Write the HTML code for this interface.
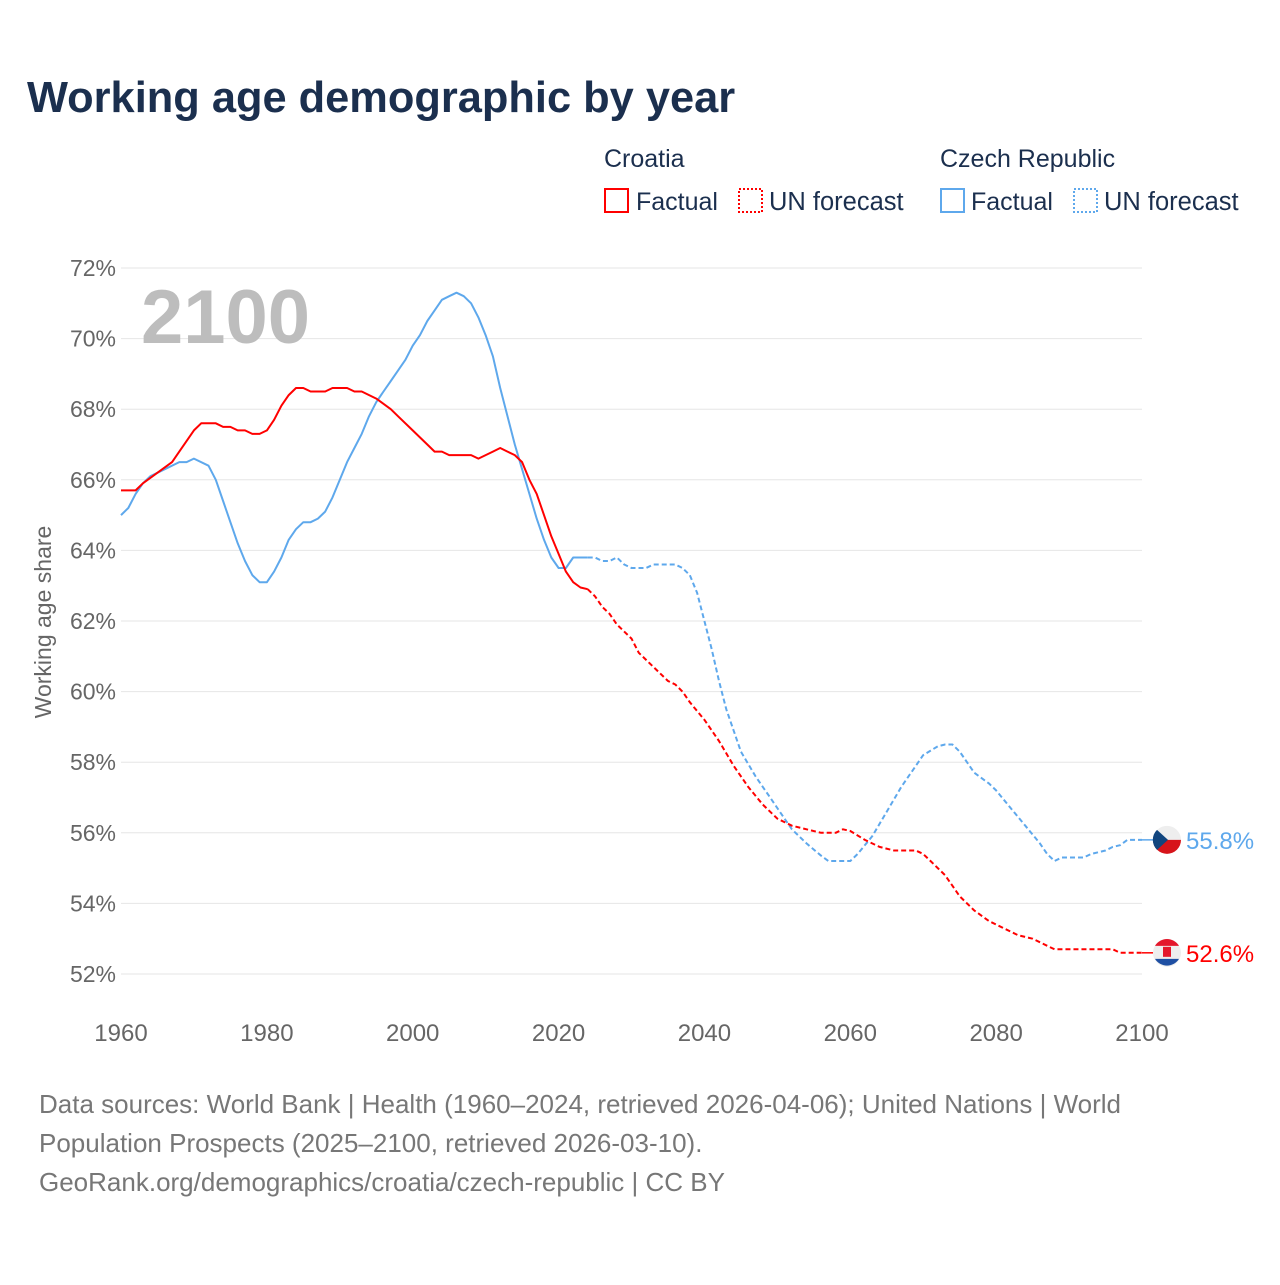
<!DOCTYPE html>
<html><head><meta charset="utf-8"><style>
body{margin:0;background:#fff;font-family:"Liberation Sans",sans-serif;}
svg text{font-family:"Liberation Sans",sans-serif;}
</style></head><body>
<svg id="c" width="1280" height="1280" xmlns="http://www.w3.org/2000/svg">
<text x="27" y="112" font-size="43.4" font-weight="bold" fill="#1b2f4e">Working age demographic by year</text>
<g>
<text x="604" y="167" font-size="25" fill="#1b2f4e">Croatia</text>
<text x="940" y="167" font-size="25" fill="#1b2f4e">Czech Republic</text>
<rect x="605" y="189" width="23" height="23" fill="none" stroke="#f00" stroke-width="2"/>
<text x="636" y="210" font-size="25" fill="#1b2f4e">Factual</text>
<rect x="739" y="189" width="23" height="23" fill="none" stroke="#f00" stroke-width="2" stroke-dasharray="2,2"/>
<text x="769" y="210" font-size="25.5" fill="#1b2f4e">UN forecast</text>
<rect x="941" y="189" width="23" height="23" fill="none" stroke="#5ea8ec" stroke-width="2"/>
<text x="971" y="210" font-size="25" fill="#1b2f4e">Factual</text>
<rect x="1074" y="189" width="23" height="23" fill="none" stroke="#5ea8ec" stroke-width="2" stroke-dasharray="2,2"/>
<text x="1104" y="210" font-size="25.5" fill="#1b2f4e">UN forecast</text>
</g>
<g id="grid"></g>
<text x="141" y="343" font-size="76" font-weight="bold" fill="#bdbdbd">2100</text>
<text transform="translate(51,622) rotate(-90)" text-anchor="middle" font-size="23" fill="#666">Working age share</text>
<g id="series"></g>
<g id="ends"></g>
<text x="39" y="1113" font-size="26" fill="#777">Data sources: World Bank | Health (1960–2024, retrieved 2026-04-06); United Nations | World</text>
<text x="39" y="1152" font-size="26" fill="#777">Population Prospects (2025–2100, retrieved 2026-03-10).</text>
<text x="39" y="1191" font-size="26" fill="#777">GeoRank.org/demographics/croatia/czech-republic | CC BY</text>
</svg>
<script>
const yTicks=[52,54,56,58,60,62,64,66,68,70,72];
const xTicks=[1960,1980,2000,2020,2040,2060,2080,2100];
const hrYears=[1960,1962,1963,1965,1967,1968,1970,1971,1973,1974,1975,1976,1977,1978,1979,1980,1981,1982,1983,1984,1985,1986,1988,1989,1991,1992,1993,1995,1997,1998,2000,2002,2003,2004,2005,2008,2009,2011,2012,2013,2014,2015,2016,2017,2018,2019,2020,2021,2022,2023,2024];
const hrVals=[65.7,65.7,65.9,66.2,66.5,66.8,67.4,67.6,67.6,67.5,67.5,67.4,67.4,67.3,67.3,67.4,67.7,68.1,68.4,68.6,68.6,68.5,68.5,68.6,68.6,68.5,68.5,68.3,68.0,67.8,67.4,67.0,66.8,66.8,66.7,66.7,66.6,66.8,66.9,66.8,66.7,66.5,66.0,65.6,65.0,64.4,63.9,63.4,63.1,62.95,62.9];
const hrFYears=[2024,2025,2026,2027,2028,2030,2031,2033,2035,2036,2037,2038,2040,2042,2044,2046,2048,2050,2052,2054,2056,2058,2059,2060,2062,2064,2066,2069,2070,2071,2072,2073,2075,2077,2079,2081,2083,2085,2087,2088,2091,2096,2097,2100];
const hrFVals=[62.9,62.7,62.4,62.2,61.9,61.5,61.1,60.7,60.3,60.2,60.0,59.7,59.2,58.6,57.9,57.3,56.8,56.4,56.2,56.1,56.0,56.0,56.1,56.05,55.8,55.6,55.5,55.5,55.4,55.2,55.0,54.8,54.2,53.8,53.5,53.3,53.1,53.0,52.8,52.7,52.7,52.7,52.6,52.6];
const czYears=[1960,1961,1962,1963,1964,1966,1968,1969,1970,1972,1973,1974,1975,1976,1977,1978,1979,1980,1981,1982,1983,1984,1985,1986,1987,1988,1989,1990,1991,1992,1993,1994,1995,1996,1997,1998,1999,2000,2001,2002,2003,2004,2005,2006,2007,2008,2009,2010,2011,2012,2013,2014,2015,2016,2017,2018,2019,2020,2021,2022,2024];
const czVals=[65.0,65.2,65.6,65.9,66.1,66.3,66.5,66.5,66.6,66.4,66.0,65.4,64.8,64.2,63.7,63.3,63.1,63.1,63.4,63.8,64.3,64.6,64.8,64.8,64.9,65.1,65.5,66.0,66.5,66.9,67.3,67.8,68.2,68.5,68.8,69.1,69.4,69.8,70.1,70.5,70.8,71.1,71.2,71.3,71.2,71.0,70.6,70.1,69.5,68.6,67.8,67.0,66.3,65.6,64.9,64.3,63.8,63.5,63.5,63.8,63.8];
const czFYears=[2024,2025,2026,2027,2028,2029,2030,2032,2033,2036,2037,2038,2039,2040,2041,2042,2043,2044,2045,2047,2049,2051,2052,2054,2056,2057,2060,2061,2063,2065,2067,2069,2070,2072,2073,2074,2075,2076,2077,2079,2080,2082,2084,2086,2087,2088,2089,2092,2093,2095,2096,2097,2098,2100];
const czFVals=[63.8,63.8,63.7,63.7,63.8,63.6,63.5,63.5,63.6,63.6,63.5,63.3,62.8,62.0,61.2,60.3,59.5,58.9,58.3,57.6,57.0,56.4,56.1,55.7,55.35,55.2,55.2,55.4,55.9,56.6,57.3,57.9,58.2,58.45,58.5,58.5,58.3,58.0,57.7,57.4,57.2,56.7,56.2,55.7,55.4,55.2,55.3,55.3,55.4,55.5,55.6,55.65,55.8,55.8];
const NS="http://www.w3.org/2000/svg";
const X=y=>121+(y-1960)*(1142-121)/140;
const Y=v=>974-(v-52)*(974-268)/20;
function mk(t,a,p){const e=document.createElementNS(NS,t);for(const k in a)e.setAttribute(k,a[k]);p.appendChild(e);return e;}
const grid=document.getElementById('grid');
yTicks.forEach(v=>{
 const l=mk('line',{x1:121,x2:1142,y1:Y(v),y2:Y(v),stroke:'#e6e6e6','stroke-width':1},grid);
 
 
 const t=mk('text',{x:116,y:Y(v)+8,'text-anchor':'end','font-size':23,fill:'#666'},grid);
 t.textContent=v+'%';
 
 
});
xTicks.forEach(v=>{
 const t=mk('text',{x:X(v),y:1041,'text-anchor':'middle','font-size':24,fill:'#666'},grid);
 t.textContent=v;
 
 
});
const S=document.getElementById('series');
function line(ys,vs,col,dash,name){
 const d=ys.map((y,i)=>(i?'L':'M')+X(y).toFixed(1)+','+Y(vs[i]).toFixed(1)).join('');
 const p=mk('path',{d:d,fill:'none',stroke:col,'stroke-width':2,'stroke-linejoin':'round'},S);
 if(dash)p.setAttribute('stroke-dasharray','5,3');
 
 
}
line(czYears,czVals,'#5ea8ec',false,'czech-factual-line');
line(czFYears,czFVals,'#5ea8ec',true,'czech-forecast-line');
line(hrYears,hrVals,'#ff0000',false,'croatia-factual-line');
line(hrFYears,hrFVals,'#ff0000',true,'croatia-forecast-line');
const E=document.getElementById('ends');
function end(v,col,label,name,flag){
 const y=Y(v);
 mk('line',{x1:1142,x2:1153,y1:y,y2:y,stroke:col,'stroke-width':1.5},E);
 const g=mk('g',{},E);
 
 
 const cx=1167;
 if(flag==='cz'){
  mk('circle',{cx:cx,cy:y,r:14,fill:'#eee'},g);
  mk('path',{d:`M${cx-14},${y}A14,14 0 0 0 ${cx+14},${y}Z`,fill:'#d7141a'},g);
  mk('path',{d:`M${cx-10},${y-10}L${cx+1},${y}L${cx-10},${y+10}A14,14 0 0 1 ${cx-10},${y-10}Z`,fill:'#11457e'},g);
 }else{
  mk('circle',{cx:cx,cy:y,r:14,fill:'#eee'},g);
  mk('path',{d:`M${cx-12},${y-7}A14,14 0 0 1 ${cx+12},${y-7}Z`,fill:'#e4172b'},g);
  mk('path',{d:`M${cx-12},${y+6}A14,14 0 0 0 ${cx+12},${y+6}Z`,fill:'#1e4fa3'},g);
  mk('rect',{x:cx-4,y:y-6,width:8,height:10,fill:'#e4172b'},g);
 }
 const t=mk('text',{x:1186,y:y+9,'font-size':24,fill:col},E);
 t.textContent=label;
 
 
}
end(czFVals[czFVals.length-1],'#5ea8ec',czFVals[czFVals.length-1].toFixed(1)+'%','czech','cz');
end(hrFVals[hrFVals.length-1],'#ff0000',hrFVals[hrFVals.length-1].toFixed(1)+'%','croatia','hr');
</script>
</body></html>
